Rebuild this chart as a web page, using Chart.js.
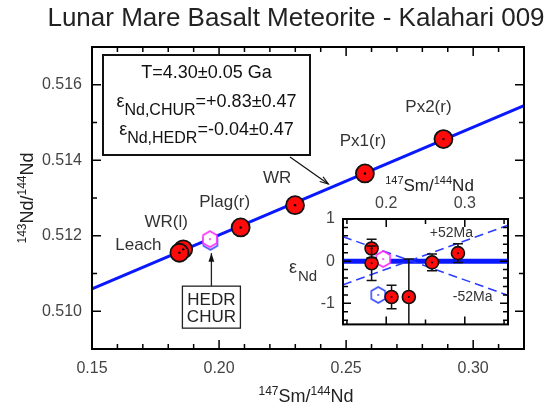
<!DOCTYPE html>
<html>
<head>
<meta charset="utf-8">
<script src="https://cdn.jsdelivr.net/npm/chart.js@4.4.0/dist/chart.umd.min.js"></script>
<style>
  body { margin: 0; background: #fff; }
  #wrap { position: relative; width: 553px; height: 412px; }
  #main { position: absolute; left: 0; top: 0; }
  #inset { position: absolute; left: 280px; top: 172px; }
</style>
</head>
<body>
<div id="wrap">
  <canvas id="main" width="553" height="412"></canvas>
  <canvas id="inset" width="240" height="170"></canvas>
</div>
<script>
const FONT = "'Liberation Sans', Arial, Helvetica, sans-serif";

const chartTitle = 'Lunar Mare Basalt Meteorite - Kalahari 009';
const xTitle = [['147', true], ['Sm/', false], ['144', true], ['Nd', false]];
const yTitle = [['143', true], ['Nd/', false], ['144', true], ['Nd', false]];

// main isochron, 147Sm/144Nd vs 143Nd/144Nd
const sampleNames = ['WR(l)', 'Leach', 'Plag(r)', 'WR', 'Px1(r)', 'Px2(r)'];
const smNd = [0.1859, 0.1844, 0.2085, 0.2299, 0.2574, 0.2883];
const ndNd = [0.51164, 0.51155, 0.51222, 0.51281, 0.51365, 0.51456];
const isoX = [0.15, 0.32];
const isoY = [0.51059, 0.51545];
const churXY = [0.1964, 0.51191];
const hedrXY = [0.1966, 0.51184];

// inset, eNd relative to the isochron
const epsX = [0.1814, 0.1814, 0.2068, 0.2288, 0.2583, 0.2913];
const epsY = [0.30, -0.05, -0.85, -0.85, -0.03, 0.19];
const epsErr = [0.22, 0.41, 0.28, 0.90, 0.20, 0.22];
const churEps = [0.1961, 0.05];
const hedrEps = [0.1898, -0.80];
const insetX = [0.145, 0.355];
const plus52Y = [-0.56, 0.85];
const minus52Y = [0.58, -0.81];

// label offsets (px) from each sample point
const labelDx = [-17, -41, -16, -18, -2, -15];
const labelDy = [-27, -7, -25, -27, -32, -32];

const pts = (xs, ys) => xs.map((v, i) => ({x: v, y: ys[i]}));

function makeHex(color, r) {
  const c = document.createElement('canvas');
  const s = Math.ceil(2 * r + 4);
  c.width = s; c.height = s;
  const g = c.getContext('2d');
  g.beginPath();
  for (let k = 0; k < 6; k++) {
    const ang = Math.PI / 2 + k * Math.PI / 3;
    const px = s / 2 + r * Math.cos(ang), py = s / 2 + r * Math.sin(ang);
    if (k) g.lineTo(px, py); else g.moveTo(px, py);
  }
  g.closePath();
  g.fillStyle = '#fff';
  g.fill();
  g.strokeStyle = color;
  g.lineWidth = 1.6;
  g.stroke();
  g.fillStyle = color;
  g.beginPath();
  g.arc(s / 2, s / 2, 1, 0, 2 * Math.PI);
  g.fill();
  return c;
}

function arrow(ctx, x0, y0, x1, y1, filled) {
  const ang = Math.atan2(y1 - y0, x1 - x0), L = 9, W = 0.33;
  ctx.beginPath();
  ctx.moveTo(x0, y0);
  ctx.lineTo(x1, y1);
  ctx.stroke();
  ctx.beginPath();
  ctx.moveTo(x1 - L * Math.cos(ang - W), y1 - L * Math.sin(ang - W));
  ctx.lineTo(x1, y1);
  ctx.lineTo(x1 - L * Math.cos(ang + W), y1 - L * Math.sin(ang + W));
  if (filled) { ctx.closePath(); ctx.fill(); } else ctx.stroke();
}

// text with superscript parts, centred on cx, optionally turned -90deg
function supText(ctx, parts, cx, base, size, rotate) {
  const small = Math.round(size * 0.66);
  let total = 0;
  parts.forEach(([t, sup]) => {
    ctx.font = (sup ? small : size) + 'px ' + FONT;
    total += ctx.measureText(t).width;
  });
  ctx.save();
  ctx.translate(cx, base);
  if (rotate) ctx.rotate(-Math.PI / 2);
  ctx.textAlign = 'left';
  ctx.textBaseline = 'alphabetic';
  let x0 = -total / 2;
  parts.forEach(([t, sup]) => {
    ctx.font = (sup ? small : size) + 'px ' + FONT;
    ctx.fillText(t, x0, sup ? -size * 0.4 : 0);
    x0 += ctx.measureText(t).width;
  });
  ctx.restore();
}

// inward ticks on all four sides plus the box
function frame(major, minor) {
  return {
    id: 'frame',
    afterDraw(chart) {
      const {ctx, chartArea: a, scales: {x, y}} = chart;
      ctx.save();
      ctx.strokeStyle = '#000';
      ctx.lineWidth = 1.5;
      ctx.beginPath();
      x.ticks.forEach(t => {
        const px = x.getPixelForValue(t.value);
        const len = t.label !== '' ? major : minor;
        ctx.moveTo(px, a.bottom); ctx.lineTo(px, a.bottom - len);
        ctx.moveTo(px, a.top); ctx.lineTo(px, a.top + len);
      });
      y.ticks.forEach(t => {
        const py = y.getPixelForValue(t.value);
        const len = t.label !== '' ? major : minor;
        ctx.moveTo(a.left, py); ctx.lineTo(a.left + len, py);
        ctx.moveTo(a.right, py); ctx.lineTo(a.right - len, py);
      });
      ctx.stroke();
      ctx.lineWidth = 2;
      ctx.strokeRect(a.left, a.top, a.right - a.left, a.bottom - a.top);
      ctx.restore();
    }
  };
}

function epsText(ctx, cx, base, sub, value) {
  ctx.font = '18px ' + FONT;
  const w1 = ctx.measureText('ε').width;
  const w3 = ctx.measureText(value).width;
  ctx.font = '16px ' + FONT;
  const w2 = ctx.measureText(sub).width;
  let x0 = cx - (w1 + w2 + w3) / 2;
  ctx.font = '18px ' + FONT;
  ctx.fillText('ε', x0, base);
  ctx.font = '16px ' + FONT;
  ctx.fillText(sub, x0 + w1, base + 8);
  ctx.font = '18px ' + FONT;
  ctx.fillText(value, x0 + w1 + w2, base);
}

const mainNotes = {
  id: 'mainNotes',
  afterDraw(chart) {
    const {ctx, chartArea: a, scales: {x, y}} = chart;
    ctx.save();
    ctx.fillStyle = '#222';
    ctx.font = '26px ' + FONT;
    ctx.textAlign = 'center';
    ctx.textBaseline = 'alphabetic';
    ctx.fillText(chartTitle, 296, 26);

    // axis titles
    supText(ctx, xTitle, (a.left + a.right) / 2 - 2, a.bottom + 53, 18, false);
    supText(ctx, yTitle, 33, (a.top + a.bottom) / 2, 18, true);

    ctx.font = '17px ' + FONT;
    ctx.fillStyle = '#333';
    ctx.textAlign = 'center';
    ctx.textBaseline = 'middle';
    sampleNames.forEach((n, i) => {
      ctx.fillText(n, x.getPixelForValue(smNd[i]) + labelDx[i], y.getPixelForValue(ndNd[i]) + labelDy[i]);
    });

    // result box
    const bx = a.left + 11, by = a.top + 8, bw = 207, bh = 100;
    ctx.fillStyle = '#fff';
    ctx.fillRect(bx, by, bw, bh);
    ctx.strokeStyle = '#111';
    ctx.lineWidth = 2;
    ctx.strokeRect(bx, by, bw, bh);
    ctx.fillStyle = '#111';
    ctx.textBaseline = 'alphabetic';
    ctx.font = '18px ' + FONT;
    ctx.fillText('T=4.30±0.05 Ga', bx + bw / 2, by + 23);
    ctx.textAlign = 'left';
    epsText(ctx, bx + bw / 2, by + 52, 'Nd,CHUR', '=+0.83±0.47');
    epsText(ctx, bx + bw / 2, by + 80, 'Nd,HEDR', '=-0.04±0.47');
    ctx.lineWidth = 1.2;
    arrow(ctx, bx + 187, by + bh + 2, x.getPixelForValue(0.2430), y.getPixelForValue(0.51337), false);

    // HEDR / CHUR box
    const hx = x.getPixelForValue(churXY[0]) + 1.5, hy = y.getPixelForValue(churXY[1]);
    const tw = 58, th = 42, top = hy + 47;
    ctx.fillStyle = '#fff';
    ctx.fillRect(hx - tw / 2, top, tw, th);
    ctx.lineWidth = 1.3;
    ctx.strokeStyle = '#222';
    ctx.strokeRect(hx - tw / 2, top, tw, th);
    ctx.fillStyle = '#222';
    ctx.textAlign = 'center';
    ctx.textBaseline = 'middle';
    ctx.font = '17px ' + FONT;
    ctx.fillText('HEDR', hx, top + 14);
    ctx.fillText('CHUR', hx, top + 31);
    ctx.fillStyle = '#111';
    arrow(ctx, hx, top, hx, hy + 14, true);
    ctx.restore();
  }
};

new Chart(document.getElementById('main'), {
  type: 'scatter',
  data: {
    datasets: [
      {
        data: pts(isoX, isoY), showLine: true, borderColor: '#0a18ff', borderWidth: 3,
        pointRadius: 0, order: 5
      },
      {
        data: [{x: hedrXY[0], y: hedrXY[1]}], pointStyle: makeHex('#3a4cff', 8), pointRadius: 8, order: 4
      },
      {
        data: [{x: churXY[0], y: churXY[1]}], pointStyle: makeHex('#ff2cff', 8), pointRadius: 8, order: 3
      },
      {
        data: pts(smNd, ndNd), pointRadius: 9, backgroundColor: '#ff0a0a',
        borderColor: '#111', borderWidth: 1.8, order: 2
      },
      {
        data: pts(smNd, ndNd), pointRadius: 1.2, backgroundColor: '#000', borderWidth: 0, order: 1
      }
    ]
  },
  options: {
    responsive: false,
    animation: false,
    layout: { padding: { top: 47, right: 29, bottom: 0, left: 0 } },
    plugins: { legend: { display: false }, tooltip: { enabled: false } },
    scales: {
      x: {
        type: 'linear', min: 0.15, max: 0.32,
        grid: { display: false, drawTicks: false },
        border: { display: false },
        ticks: {
          stepSize: 0.01, autoSkip: false, maxRotation: 0, padding: 10,
          color: '#444', font: { size: 16, family: FONT },
          callback: v => Math.round(v * 100) % 5 === 0 ? v.toFixed(2) : ''
        },
        afterFit: s => { s.height = 63; }
      },
      y: {
        type: 'linear', min: 0.509, max: 0.517,
        grid: { display: false, drawTicks: false },
        border: { display: false },
        ticks: {
          stepSize: 0.001, autoSkip: false, padding: 10,
          color: '#444', font: { size: 16, family: FONT },
          callback: v => Math.round(v * 1000) % 2 === 0 ? v.toFixed(3) : ''
        },
        afterFit: s => { s.width = 92; }
      }
    }
  },
  plugins: [frame(9, 5), mainNotes]
});

// inset
const DOT_R = 6.5;

const errorBars = {
  id: 'errorBars',
  afterDatasetsDraw(chart) {
    const {ctx, chartArea: a, scales: {x, y}} = chart;
    ctx.save();
    ctx.beginPath();
    ctx.rect(a.left, a.top, a.right - a.left, a.bottom - a.top);
    ctx.clip();
    ctx.strokeStyle = '#111';
    ctx.lineWidth = 1.5;
    ctx.beginPath();
    epsY.forEach((v, i) => {
      const px = x.getPixelForValue(epsX[i]);
      const py = y.getPixelForValue(v);
      const top = y.getPixelForValue(v + epsErr[i]);
      const bot = y.getPixelForValue(v - epsErr[i]);
      if (py - top > DOT_R) {
        ctx.moveTo(px, py - DOT_R); ctx.lineTo(px, top);
        ctx.moveTo(px - 5, top); ctx.lineTo(px + 5, top);
      }
      if (bot - py > DOT_R) {
        ctx.moveTo(px, py + DOT_R); ctx.lineTo(px, bot);
        ctx.moveTo(px - 5, bot); ctx.lineTo(px + 5, bot);
      }
    });
    ctx.stroke();
    ctx.restore();
  }
};

const insetNotes = {
  id: 'insetNotes',
  afterDraw(chart) {
    const {ctx, chartArea: a, scales: {x, y}} = chart;
    ctx.save();
    ctx.fillStyle = '#222';
    supText(ctx, xTitle, (a.left + a.right) / 2 + 4, a.top - 28, 17, false);
    ctx.fillStyle = '#333';
    ctx.textAlign = 'center';
    ctx.textBaseline = 'middle';
    ctx.font = '14px ' + FONT;
    ctx.fillText('+52Ma', x.getPixelForValue(0.2829), y.getPixelForValue(0.67));
    ctx.fillText('-52Ma', x.getPixelForValue(0.310), y.getPixelForValue(-0.864));
    ctx.textAlign = 'left';
    ctx.textBaseline = 'alphabetic';
    const z = y.getPixelForValue(0);
    ctx.font = '18px ' + FONT;
    ctx.fillText('ε', a.left - 54, z + 12);
    const w = ctx.measureText('ε').width;
    ctx.font = '15px ' + FONT;
    ctx.fillText('Nd', a.left - 54 + w + 1, z + 20);
    ctx.restore();
  }
};

new Chart(document.getElementById('inset'), {
  type: 'scatter',
  data: {
    datasets: [
      {
        data: pts(insetX, [0, 0]), showLine: true, borderColor: '#0a18ff', borderWidth: 5,
        pointRadius: 0, order: 9
      },
      {
        data: pts(insetX, plus52Y), showLine: true, borderColor: '#2a3cff', borderWidth: 1.5,
        borderDash: [9, 5], pointRadius: 0, order: 8
      },
      {
        data: pts(insetX, minus52Y), showLine: true, borderColor: '#2a3cff', borderWidth: 1.5,
        borderDash: [9, 5], pointRadius: 0, order: 7
      },
      {
        data: [{x: hedrEps[0], y: hedrEps[1]}], pointStyle: makeHex('#3a4cff', 8), pointRadius: 8, order: 4
      },
      {
        data: [{x: churEps[0], y: churEps[1]}], pointStyle: makeHex('#ff2cff', 8), pointRadius: 8, order: 3
      },
      {
        data: pts(epsX, epsY), pointRadius: DOT_R, backgroundColor: '#ff0a0a',
        borderColor: '#111', borderWidth: 1.6, order: 2
      },
      {
        data: pts(epsX, epsY), pointRadius: 1, backgroundColor: '#000', borderWidth: 0, order: 1
      }
    ]
  },
  options: {
    responsive: false,
    animation: false,
    layout: { padding: { top: 0, right: 12, bottom: 9, left: 0 } },
    plugins: { legend: { display: false }, tooltip: { enabled: false } },
    scales: {
      x: {
        type: 'linear', position: 'top', min: 0.145, max: 0.355,
        grid: { display: false, drawTicks: false },
        border: { display: false },
        ticks: {
          stepSize: 0.05, includeBounds: false, autoSkip: false, maxRotation: 0, padding: 6,
          color: '#444', font: { size: 16, family: FONT },
          callback: v => (Math.abs(v - 0.2) < 1e-6 || Math.abs(v - 0.3) < 1e-6) ? v.toFixed(1) : ''
        },
        afterFit: s => { s.height = 47; }
      },
      y: {
        type: 'linear', min: -1.5, max: 1,
        grid: { display: false, drawTicks: false },
        border: { display: false },
        ticks: {
          stepSize: 0.2, includeBounds: false, autoSkip: false, padding: 8,
          color: '#444', font: { size: 16, family: FONT },
          callback: v => Math.abs(v - Math.round(v)) < 1e-6 ? String(Math.round(v)) : ''
        },
        afterFit: s => { s.width = 63; }
      }
    }
  },
  plugins: [frame(8, 5), errorBars, insetNotes]
});
</script>
</body>
</html>
